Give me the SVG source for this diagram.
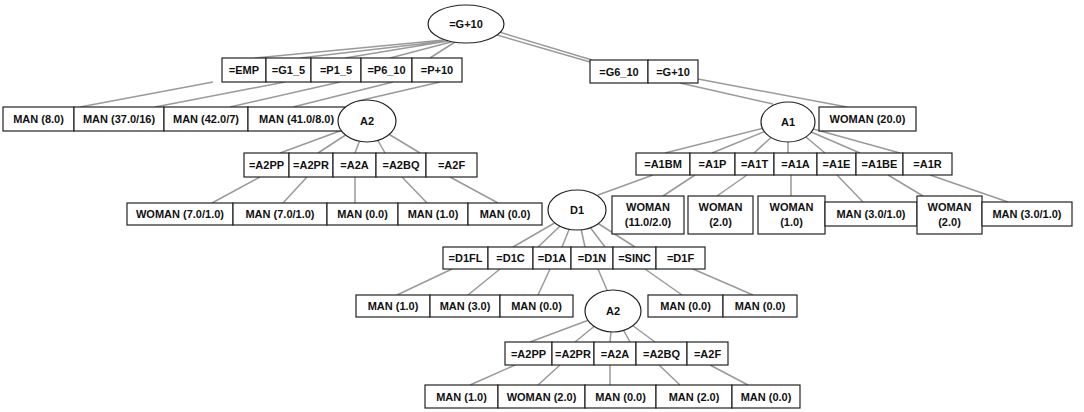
<svg xmlns="http://www.w3.org/2000/svg" width="1084" height="412" viewBox="0 0 1084 412">
<style>
.b{fill:#fff;stroke:#222;stroke-width:1.2}
.t{font-family:"Liberation Sans",Arial,sans-serif;font-weight:bold;font-size:11px;text-anchor:middle;fill:#111}
.c{stroke:#9a9a9a;stroke-width:1.5;fill:none}
</style>
<rect width="1084" height="412" fill="#fff"/>
<g id="connectors" class="c">
<path d="M444 40L255 58M446 41L300 58M448 41L345 58M451 42L390 58M455 42L430 58"/>
<path d="M213 82L80 107M285 82L155 107M340 82L230 107M393 82L293 107M440 82L358 101"/>
<path d="M466 22L592 60M466 26L590 62M680 83L773 104M698 79L847 107"/>
<path d="M367 121L280 153M367 121L318 153M367 121L355 153M367 121L385 153M367 121L420 153"/>
<path d="M260 177L212 203M307 177L283 203M355 177L355 203M402 177L427 203M450 177L498 203"/>
<path d="M788 122L665 153M788 122L712 153M788 122L754 153M788 122L788 153M788 122L825 153M788 122L860 153M788 122L900 153"/>
<path d="M653 175L598 195M695 175L663 196M747 175L717 196M791 175L791 196M837 175L863 202M888 175L923 196M930 175L1008 202"/>
<path d="M577 210L513 247M577 210L538 247M577 210L562 247M577 210L585 247M577 210L605 247M577 210L635 247"/>
<path d="M452 269L397 295M500 269L468 295M550 269L538 295M598 269L607 290M645 269L682 295M693 269L753 295"/>
<path d="M613 311L530 342M613 311L575 342M613 311L610 342M613 311L630 342M613 311L655 342"/>
<path d="M515 365L470 385M560 365L538 385M610 365L610 385M659 365L680 385M710 365L748 385"/>
</g>
<g id="root"><ellipse class="b" cx="466" cy="24" rx="38" ry="19"/><text class="t" x="466" y="28">=G+10</text></g>
<g id="root-labels-left">
<rect class="b" x="222" y="58" width="44" height="24"/><text class="t" x="244" y="74">=EMP</text>
<rect class="b" x="266" y="58" width="45" height="24"/><text class="t" x="288.5" y="74">=G1_5</text>
<rect class="b" x="311" y="58" width="50" height="24"/><text class="t" x="336" y="74">=P1_5</text>
<rect class="b" x="361" y="58" width="51" height="24"/><text class="t" x="386.5" y="74">=P6_10</text>
<rect class="b" x="412" y="58" width="50" height="24"/><text class="t" x="437" y="74">=P+10</text>
</g>
<g id="root-labels-right">
<rect class="b" x="590" y="60" width="58" height="23"/><text class="t" x="619" y="75.5">=G6_10</text>
<rect class="b" x="648" y="60" width="50" height="23"/><text class="t" x="673" y="75.5">=G+10</text>
</g>
<g id="leaves-row1">
<rect class="b" x="3" y="107" width="71" height="24"/><text class="t" x="38.5" y="123">MAN (8.0)</text>
<rect class="b" x="74" y="107" width="90" height="24"/><text class="t" x="119" y="123">MAN (37.0/16)</text>
<rect class="b" x="164" y="107" width="84" height="24"/><text class="t" x="206" y="123">MAN (42.0/7)</text>
<rect class="b" x="248" y="107" width="97" height="24"/><text class="t" x="296.5" y="123">MAN (41.0/8.0)</text>
</g>
<g id="A2a"><ellipse class="b" cx="367" cy="121" rx="29" ry="21"/><text class="t" x="367" y="125">A2</text></g>
<g id="A1"><ellipse class="b" cx="788" cy="122" rx="27" ry="20"/><text class="t" x="788" y="126">A1</text></g>
<g id="woman20"><rect class="b" x="819" y="107" width="97" height="24"/><text class="t" x="867.5" y="123">WOMAN (20.0)</text></g>
<g id="A2a-labels">
<rect class="b" x="244" y="153" width="45" height="24"/><text class="t" x="266.5" y="169">=A2PP</text>
<rect class="b" x="289" y="153" width="44" height="24"/><text class="t" x="311" y="169">=A2PR</text>
<rect class="b" x="333" y="153" width="43" height="24"/><text class="t" x="354.5" y="169">=A2A</text>
<rect class="b" x="376" y="153" width="50" height="24"/><text class="t" x="401" y="169">=A2BQ</text>
<rect class="b" x="426" y="153" width="51" height="24"/><text class="t" x="451.5" y="169">=A2F</text>
</g>
<g id="A2a-leaves">
<rect class="b" x="127" y="203" width="106" height="22"/><text class="t" x="180" y="218">WOMAN (7.0/1.0)</text>
<rect class="b" x="233" y="203" width="94" height="22"/><text class="t" x="280" y="218">MAN (7.0/1.0)</text>
<rect class="b" x="327" y="203" width="71" height="22"/><text class="t" x="362.5" y="218">MAN (0.0)</text>
<rect class="b" x="398" y="203" width="70" height="22"/><text class="t" x="433" y="218">MAN (1.0)</text>
<rect class="b" x="468" y="203" width="74" height="22"/><text class="t" x="505" y="218">MAN (0.0)</text>
</g>
<g id="A1-labels">
<rect class="b" x="636" y="153" width="54" height="22"/><text class="t" x="663" y="168">=A1BM</text>
<rect class="b" x="690" y="153" width="45" height="22"/><text class="t" x="712.5" y="168">=A1P</text>
<rect class="b" x="735" y="153" width="39" height="22"/><text class="t" x="754.5" y="168">=A1T</text>
<rect class="b" x="774" y="153" width="43" height="22"/><text class="t" x="795.5" y="168">=A1A</text>
<rect class="b" x="817" y="153" width="39" height="22"/><text class="t" x="836.5" y="168">=A1E</text>
<rect class="b" x="856" y="153" width="47" height="22"/><text class="t" x="879.5" y="168">=A1BE</text>
<rect class="b" x="903" y="153" width="49" height="22"/><text class="t" x="927.5" y="168">=A1R</text>
</g>
<g id="D1"><ellipse class="b" cx="577" cy="210" rx="29" ry="20"/><text class="t" x="577" y="214">D1</text></g>
<g id="A1-leaves">
<rect class="b" x="612" y="196" width="72" height="38"/><text class="t" x="648" y="211">WOMAN</text><text class="t" x="648" y="226">(11.0/2.0)</text>
<rect class="b" x="688" y="196" width="65" height="38"/><text class="t" x="720.5" y="211">WOMAN</text><text class="t" x="720.5" y="226">(2.0)</text>
<rect class="b" x="758" y="196" width="67" height="38"/><text class="t" x="791.5" y="211">WOMAN</text><text class="t" x="791.5" y="226">(1.0)</text>
<rect class="b" x="825" y="202" width="92" height="24"/><text class="t" x="871" y="218">MAN (3.0/1.0)</text>
<rect class="b" x="917" y="196" width="65" height="38"/><text class="t" x="949.5" y="211">WOMAN</text><text class="t" x="949.5" y="226">(2.0)</text>
<rect class="b" x="982" y="202" width="90" height="24"/><text class="t" x="1027" y="218">MAN (3.0/1.0)</text>
</g>
<g id="D1-labels">
<rect class="b" x="443" y="247" width="45" height="22"/><text class="t" x="465.5" y="262">=D1FL</text>
<rect class="b" x="488" y="247" width="45" height="22"/><text class="t" x="510.5" y="262">=D1C</text>
<rect class="b" x="533" y="247" width="38" height="22"/><text class="t" x="552" y="262">=D1A</text>
<rect class="b" x="571" y="247" width="42" height="22"/><text class="t" x="592" y="262">=D1N</text>
<rect class="b" x="613" y="247" width="43" height="22"/><text class="t" x="634.5" y="262">=SINC</text>
<rect class="b" x="656" y="247" width="49" height="22"/><text class="t" x="680.5" y="262">=D1F</text>
</g>
<g id="D1-leaves">
<rect class="b" x="356" y="295" width="74" height="22"/><text class="t" x="393" y="310">MAN (1.0)</text>
<rect class="b" x="430" y="295" width="70" height="22"/><text class="t" x="465" y="310">MAN (3.0)</text>
<rect class="b" x="500" y="295" width="73" height="22"/><text class="t" x="536.5" y="310">MAN (0.0)</text>
<rect class="b" x="648" y="295" width="75" height="22"/><text class="t" x="685.5" y="310">MAN (0.0)</text>
<rect class="b" x="723" y="295" width="74" height="22"/><text class="t" x="760" y="310">MAN (0.0)</text>
</g>
<g id="A2b"><ellipse class="b" cx="613" cy="311" rx="28" ry="21"/><text class="t" x="613" y="315">A2</text></g>
<g id="A2b-labels">
<rect class="b" x="505" y="342" width="47" height="23"/><text class="t" x="528.5" y="357.5">=A2PP</text>
<rect class="b" x="552" y="342" width="42" height="23"/><text class="t" x="573" y="357.5">=A2PR</text>
<rect class="b" x="594" y="342" width="42" height="23"/><text class="t" x="615" y="357.5">=A2A</text>
<rect class="b" x="636" y="342" width="51" height="23"/><text class="t" x="661.5" y="357.5">=A2BQ</text>
<rect class="b" x="687" y="342" width="41" height="23"/><text class="t" x="707.5" y="357.5">=A2F</text>
</g>
<g id="A2b-leaves">
<rect class="b" x="425" y="385" width="73" height="23"/><text class="t" x="461.5" y="400.5">MAN (1.0)</text>
<rect class="b" x="498" y="385" width="87" height="23"/><text class="t" x="541.5" y="400.5">WOMAN (2.0)</text>
<rect class="b" x="585" y="385" width="71" height="23"/><text class="t" x="620.5" y="400.5">MAN (0.0)</text>
<rect class="b" x="656" y="385" width="76" height="23"/><text class="t" x="694" y="400.5">MAN (2.0)</text>
<rect class="b" x="732" y="385" width="68" height="23"/><text class="t" x="766" y="400.5">MAN (0.0)</text>
</g>
</svg>
